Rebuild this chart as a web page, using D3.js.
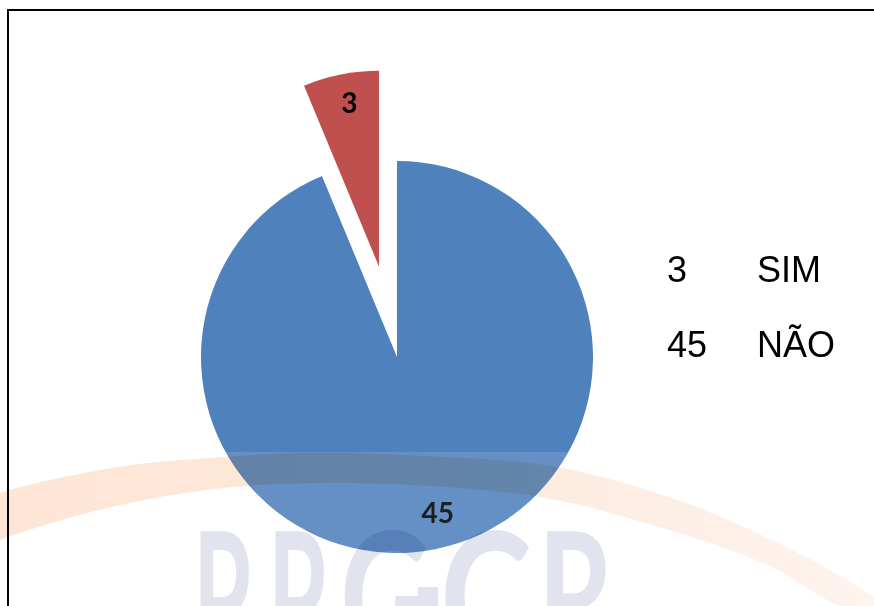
<!DOCTYPE html>
<html>
<head>
<meta charset="utf-8">
<script src="https://cdn.jsdelivr.net/npm/d3@7"></script>
<style>
  html, body { margin: 0; padding: 0; background: #fff; }
  svg { display: block; }
</style>
</head>
<body>
<svg id="chart" width="874" height="606"></svg>
<script>
// ---- data ----
const categories = ["SIM", "NÃO"];
const values = [3, 45];
const sliceColors = ["#C0504D", "#4F81BD"];
const explodeOffsets = [92, 0];
const labelNudge = [[2, -4], [9, -4]];

// watermark (decorative background logo)
const watermarkLetters = ["P", "P", "G", "C", "R"];

const W = 874, H = 606;
const svg = d3.select("#chart");
svg.append("rect").attr("width", W).attr("height", H).attr("fill", "#fff");

const cx = 397, cy = 357, R = 196;
const total = d3.sum(values);

const pie = d3.pie()
  .sort(null)
  .value(d => d.value)
  .startAngle(-2 * Math.PI * values[0] / total)
  .endAngle(2 * Math.PI - 2 * Math.PI * values[0] / total);

const data = categories.map((c, i) => ({ cat: c, value: values[i], color: sliceColors[i], off: explodeOffsets[i], nudge: labelNudge[i] }));
const arcs = pie(data);
const arc = d3.arc().innerRadius(0).outerRadius(R);
const labelArc = d3.arc().innerRadius(R * 0.83).outerRadius(R * 0.83);

const g = svg.append("g").attr("transform", `translate(${cx},${cy})`);

const slices = g.selectAll("g.slice").data(arcs).join("g")
  .attr("class", "slice")
  .attr("transform", d => {
    const a = (d.startAngle + d.endAngle) / 2;
    return `translate(${Math.sin(a) * d.data.off},${-Math.cos(a) * d.data.off})`;
  });

slices.append("path").attr("d", arc).attr("fill", d => d.data.color);

slices.append("text")
  .attr("transform", d => {
    const c = labelArc.centroid(d);
    return `translate(${c[0] + d.data.nudge[0]},${c[1] + d.data.nudge[1]})`;
  })
  .attr("text-anchor", "middle")
  .attr("dy", "0.36em")
  .attr("font-family", "Lato, 'Open Sans', sans-serif")
  .attr("font-weight", "bold")
  .attr("font-size", 28)
  .attr("fill", "#000")
  .text(d => d.data.value);

// ---- legend ----
const legend = svg.append("g").attr("font-family", "'Liberation Sans', Arial, sans-serif")
  .attr("font-size", 36).attr("fill", "#000");
const legendY = d3.scalePoint().domain(categories).range([282, 357]);
categories.forEach((c, i) => {
  legend.append("text").attr("x", 667).attr("y", legendY(c)).text(values[i]);
  legend.append("text").attr("x", 757).attr("y", legendY(c)).text(c);
});

// ---- watermark overlay (decorative) ----
svg.append("rect").attr("x", 0).attr("y", 452).attr("width", W).attr("height", H - 452)
  .attr("fill", "#fff").attr("opacity", 0.12);

const defs = svg.append("defs");
const grad = defs.append("linearGradient").attr("id", "arcgrad").attr("x1", "0").attr("x2", "1").attr("y1", "0").attr("y2", "0");
grad.append("stop").attr("offset", "0").attr("stop-color", "#FDE6D5");
grad.append("stop").attr("offset", "0.5").attr("stop-color", "#FDE8DA");
grad.append("stop").attr("offset", "1").attr("stop-color", "#FEF4EE");

const upper = [[-5,496],[0,493],[111,468],[223,457],[312,453],[446,457],[557,467],[669,497],[730,521],[780,544],[830,570],[874,597]];
const lower = [[874,612],[840,606],[810,590],[780,571],[730,550],[669,530],[557,500],[446,487],[323,483],[223,488],[111,507],[0,540],[-5,543]];
const curve = d3.line().curve(d3.curveCatmullRom);
const pathD = curve(upper) + curve(lower).replace(/^M/, "L") + "Z";
svg.append("path").attr("d", pathD).attr("fill", "url(#arcgrad)").style("mix-blend-mode", "multiply");

const letterX = [193, 268, 340, 440, 538];
const letterW = [58, 58, 92, 92, 75];
const wmText = svg.append("g").style("mix-blend-mode", "multiply").attr("fill", "#E1E3EF");
wmText.selectAll("text").data(watermarkLetters).join("text")
  .attr("font-family", "Lato, sans-serif").attr("font-weight", "bold").attr("font-size", 180)
  .attr("x", (d, i) => letterX[i]).attr("y", 662)
  .attr("textLength", (d, i) => letterW[i]).attr("lengthAdjust", "spacingAndGlyphs")
  .text(d => d);
wmText.append("rect").attr("x", 418).attr("y", 587).attr("width", 20).attr("height", 19);

// ---- frame ----
svg.append("path").attr("d", "M8,606 V10 H874").attr("fill", "none").attr("stroke", "#000").attr("stroke-width", 2);
</script>
</body>
</html>
